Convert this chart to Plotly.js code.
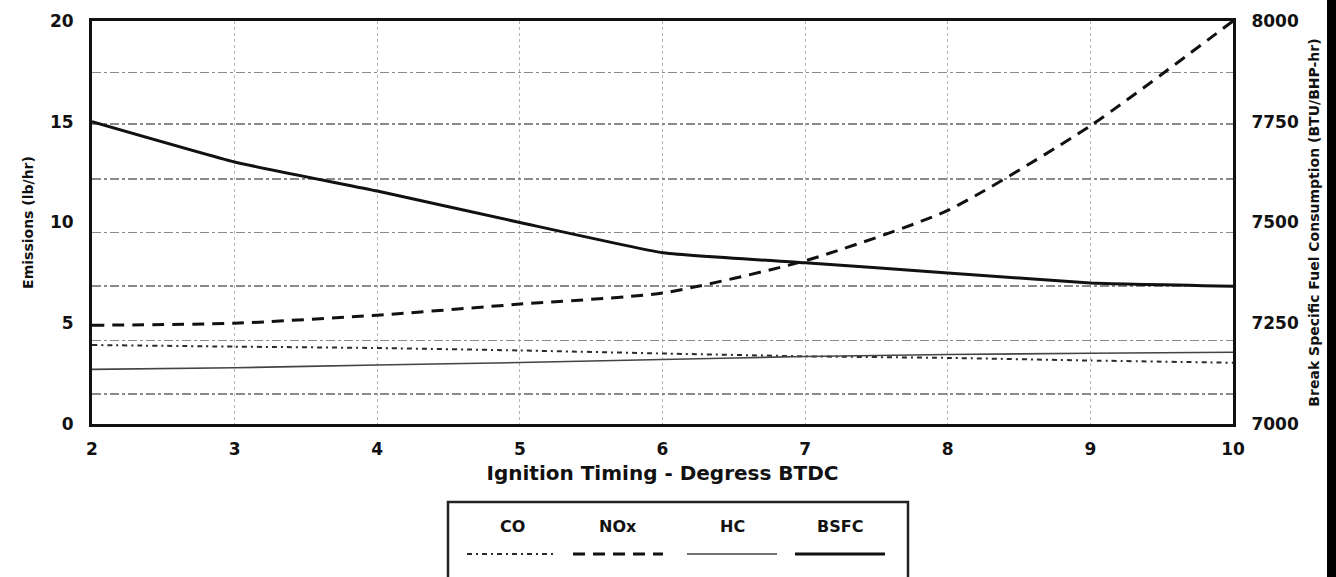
<!DOCTYPE html>
<html>
<head>
<meta charset="utf-8">
<script src="https://cdn.plot.ly/plotly-3.0.1.min.js"></script>
<style>
  html, body { margin: 0; padding: 0; background: #ffffff; }
  #chart { width: 1336px; height: 577px; }
</style>
</head>
<body>
<div id="chart"></div>
<script>
// ---- Data ----
const timing = [2, 3, 4, 5, 6, 7, 8, 9, 10];            // Ignition timing, degrees BTDC
const coEmissions  = [3.92, 3.84, 3.77, 3.65, 3.50, 3.36, 3.28, 3.15, 3.04];   // lb/hr
const noxEmissions = [4.9, 5.0, 5.4, 5.95, 6.5, 8.1, 10.6, 14.8, 20.0];        // lb/hr
const hcEmissions  = [2.71, 2.79, 2.93, 3.05, 3.20, 3.35, 3.45, 3.51, 3.56];   // lb/hr
const bsfc         = [7750, 7650, 7578, 7500, 7425, 7400, 7375, 7350, 7342];   // BTU/BHP-hr

const leftTicks  = [0, 5, 10, 15, 20];
const rightTicks = [7000, 7250, 7500, 7750, 8000];
const xTicks     = [2, 3, 4, 5, 6, 7, 8, 9, 10];
const gridLevels = [1.5, 4.15, 6.85, 9.5, 12.15, 14.9, 17.45];   // horizontal grid lines seen in the scan

const seriesNames = ['CO', 'NOx', 'HC', 'BSFC'];

// ---- Geometry helpers (layout only) ----
const W = 1336, H = 577;
const M = { l: 92, r: 103, t: 21, b: 153 };
const PW = W - M.l - M.r, PH = H - M.t - M.b;
const px = x => (x - M.l) / PW;          // pixel -> paper x
const py = y => (H - M.b - y) / PH;      // pixel -> paper y

const FONT = 'DejaVu Sans';
const tickFont = { family: FONT, size: 17, color: '#111', weight: 'bold' };

const styles = {
  CO:   { color: '#2a2a2a', width: 2,   dash: '5px,4px,2px,4px' },
  NOx:  { color: '#111111', width: 3,   dash: '12px,8px' },
  HC:   { color: '#444444', width: 1.6, dash: 'solid' },
  BSFC: { color: '#111111', width: 3,   dash: 'solid' }
};

const traces = [
  { name: 'CO',   x: timing, y: coEmissions,  yaxis: 'y',  type: 'scatter', mode: 'lines',
    line: Object.assign({ shape: 'spline', smoothing: 0.4 }, styles.CO) },
  { name: 'NOx',  x: timing, y: noxEmissions, yaxis: 'y',  type: 'scatter', mode: 'lines',
    line: Object.assign({ shape: 'spline', smoothing: 0.6 }, styles.NOx) },
  { name: 'HC',   x: timing, y: hcEmissions,  yaxis: 'y',  type: 'scatter', mode: 'lines',
    line: Object.assign({ shape: 'spline', smoothing: 0.4 }, styles.HC) },
  { name: 'BSFC', x: timing, y: bsfc,         yaxis: 'y2', type: 'scatter', mode: 'lines',
    line: Object.assign({ shape: 'spline', smoothing: 0.35 }, styles.BSFC) },
  // carrier for the grid-only overlay axis
  { x: [timing[0]], y: [gridLevels[0]], yaxis: 'y3', type: 'scatter', mode: 'markers',
    marker: { opacity: 0 }, hoverinfo: 'skip', showlegend: false }
];

// ---- Custom legend (box with names above line samples) ----
const legendCenters = [512, 618, 732, 840];
const legendHalf = 45;
const shapes = [
  { type: 'rect', xref: 'paper', yref: 'paper', x0: px(448), x1: px(908), y0: py(620), y1: py(502),
    line: { color: '#222', width: 2.5 }, fillcolor: 'rgba(0,0,0,0)', layer: 'above' },
  // black border strip of the scan at the right edge
  { type: 'rect', xref: 'paper', yref: 'paper', x0: px(1327), x1: px(1340), y0: py(590), y1: py(-10),
    line: { width: 0 }, fillcolor: '#000', layer: 'above' }
];
const annotations = [];
seriesNames.forEach((n, i) => {
  const c = legendCenters[i];
  shapes.push({ type: 'line', xref: 'paper', yref: 'paper',
    x0: px(c - legendHalf), x1: px(c + legendHalf), y0: py(554), y1: py(554),
    line: { color: styles[n].color, width: styles[n].width, dash: styles[n].dash } });
  annotations.push({ xref: 'paper', yref: 'paper', x: px(c), y: py(526), text: n, showarrow: false,
    xanchor: 'center', yanchor: 'middle', font: { family: FONT, size: 16, color: '#111', weight: 'bold' } });
});

const layout = {
  width: W, height: H,
  margin: M,
  paper_bgcolor: '#ffffff', plot_bgcolor: '#ffffff',
  showlegend: false,
  xaxis: {
    range: [2, 10], tickvals: xTicks, ticktext: xTicks.map(String),
    showgrid: true, gridcolor: '#b5b5b5', gridwidth: 1, griddash: 'dot',
    zeroline: false, showline: true, linecolor: '#111', linewidth: 3, mirror: true,
    ticks: '', ticklabelstandoff: 8, tickfont: tickFont,
    title: { text: 'Ignition Timing - Degress BTDC', standoff: 8,
             font: { family: FONT, size: 20, color: '#111', weight: 'bold' } }
  },
  yaxis: {
    range: [0, 20], tickvals: leftTicks, ticktext: leftTicks.map(String),
    showgrid: false, zeroline: false, showline: true, linecolor: '#111', linewidth: 3,
    ticks: '', ticklabelstandoff: 12, tickfont: tickFont,
    title: { text: 'Emissions (lb/hr)', standoff: 14,
             font: { family: FONT, size: 14, color: '#111', weight: 'bold' } }
  },
  yaxis2: {
    range: [7000, 8000], overlaying: 'y', side: 'right',
    tickvals: rightTicks, ticktext: rightTicks.map(String),
    showgrid: false, zeroline: false, showline: true, linecolor: '#111', linewidth: 3,
    ticks: '', ticklabelstandoff: 12, tickfont: tickFont,
    title: { text: 'Break Specific Fuel Consumption (BTU/BHP-hr)', standoff: 12,
             font: { family: FONT, size: 14, color: '#111', weight: 'bold' } }
  },
  yaxis3: {
    range: [0, 20], overlaying: 'y', side: 'left',
    tickvals: gridLevels, showticklabels: false, ticks: '',
    showgrid: true, gridcolor: '#8a8a8a', gridwidth: 1.6, griddash: '9px,3px,3px,3px',
    zeroline: false, showline: false
  },
  shapes: shapes,
  annotations: annotations
};

Plotly.newPlot('chart', traces, layout, { staticPlot: true, displayModeBar: false });
</script>
</body>
</html>
